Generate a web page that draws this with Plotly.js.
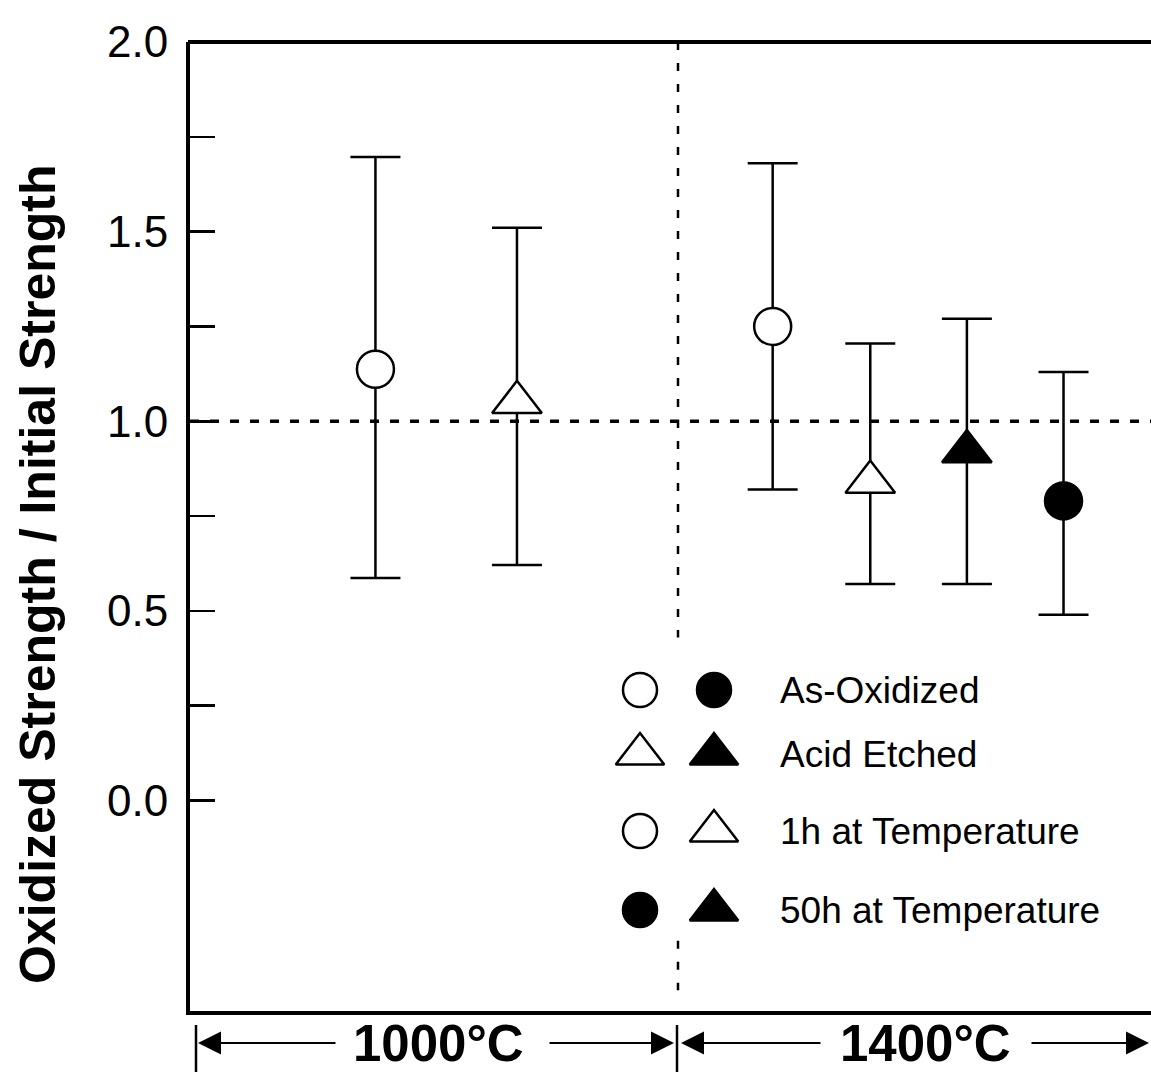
<!DOCTYPE html>
<html>
<head>
<meta charset="utf-8">
<script src="https://cdn.plot.ly/plotly-3.0.1.min.js"></script>
<style>
  html, body { margin: 0; padding: 0; background: #fff; overflow: hidden; }
  #chart { width: 1151px; height: 1073px; overflow: hidden; }
</style>
</head>
<body>
<div id="chart"></div>
<script>
// ---- data ----
const temperatures = ["1000°C", "1000°C", "1400°C", "1400°C", "1400°C", "1400°C"];
const treatments   = ["As-Oxidized", "Acid Etched", "As-Oxidized", "Acid Etched", "Acid Etched", "As-Oxidized"];
const exposure     = ["1h", "1h", "1h", "1h", "50h", "50h"];
const xSlot        = [1.9, 3.35, 5.97, 6.97, 7.96, 8.95];
const ratioMean    = [1.137, 1.05, 1.25, 0.84, 0.92, 0.79];
const ratioUpper   = [1.697, 1.51, 1.68, 1.205, 1.27, 1.13];
const ratioLower   = [0.587, 0.621, 0.82, 0.571, 0.571, 0.49];

const yTickVals  = [0, 0.25, 0.5, 0.75, 1.0, 1.25, 1.5, 1.75, 2.0];
const yTickText  = ["0.0", "", "0.5", "", "1.0", "", "1.5", "", "2.0"];

const legendLabels  = ["As-Oxidized", "Acid Etched", "1h at Temperature", "50h at Temperature"];
const legendSymbolA = ["circle", "triangle-up", "circle", "circle"];
const legendFillA   = ["1h", "1h", "1h", "50h"];
const legendSymbolB = ["circle", "triangle-up", "triangle-up", "triangle-up"];
const legendFillB   = ["50h", "50h", "1h", "50h"];

const tempGroups = ["1000°C", "1400°C"];

// ---- geometry / styling ----
const W = 1151, H = 1073;
const M = { l: 190, r: 0, t: 42, b: 62, pad: 0 };
const PW = W - M.l - M.r, PH = H - M.t - M.b;
const px = v => (v - M.l) / PW;          // page pixel x -> paper
const py = v => (H - M.b - v) / PH;      // page pixel y -> paper

const FONT = "Liberation Sans, Arial, Helvetica, sans-serif";
const symOf  = t => (t === "Acid Etched" ? "triangle-up" : "circle");
const fillOf = e => (e === "50h" ? "black" : "white");
const sizeOf = s => (s === "circle" ? 37 : 43);

const dataSymbols = treatments.map(symOf);
const dataTrace = {
  type: "scatter", mode: "markers",
  x: xSlot, y: ratioMean,
  text: temperatures.map((t, i) => t + " " + treatments[i] + " " + exposure[i]),
  error_y: {
    type: "data", symmetric: false,
    array: ratioUpper.map((u, i) => u - ratioMean[i]),
    arrayminus: ratioLower.map((l, i) => ratioMean[i] - l),
    color: "black", thickness: 2.5, width: 25
  },
  marker: {
    symbol: dataSymbols,
    size: dataSymbols.map(sizeOf),
    color: exposure.map(fillOf),
    opacity: 1,
    line: { color: "black", width: 2.5 }
  },
  showlegend: false, hoverinfo: "text"
};

// legend key (drawn on an overlay axis measured in page pixels)
const legRowY = [690, 754, 831, 910];
const legColA = 640, legColB = 714, legText = 778;
const legX = [], legY = [], legSym = [], legCol = [];
legendLabels.forEach((lab, i) => {
  legX.push(legColA, legColB); legY.push(legRowY[i], legRowY[i]);
  legSym.push(legendSymbolA[i], legendSymbolB[i]);
  legCol.push(fillOf(legendFillA[i]), fillOf(legendFillB[i]));
});
const legendTrace = {
  type: "scatter", mode: "markers", xaxis: "x2", yaxis: "y2",
  x: legX, y: legY,
  marker: {
    symbol: legSym,
    size: legSym.map(s => (s === "circle" ? 34 : 42)),
    color: legCol,
    opacity: 1,
    line: { color: "black", width: 2.5 }
  },
  showlegend: false, hoverinfo: "skip"
};

const annotations = legendLabels.map((lab, i) => ({
  xref: "x2", yref: "y2", x: legText, y: legRowY[i],
  text: lab, showarrow: false, xanchor: "left", yanchor: "middle",
  font: { family: FONT, size: 37, color: "black" }
}));

// y-axis title
annotations.push({
  xref: "paper", yref: "paper", x: px(38), y: py(575),
  text: "<b>Oxidized Strength / Initial Strength</b>", textangle: -90,
  showarrow: false, xanchor: "center", yanchor: "middle",
  font: { family: FONT, size: 50, color: "black" }
});

// temperature range labels beneath the axis
const groupCentre = [438, 925];
const rowY = 1043;
tempGroups.forEach((t, i) => {
  annotations.push({
    xref: "paper", yref: "paper", x: px(groupCentre[i]), y: py(rowY),
    text: "<b>" + t + "</b>", showarrow: false,
    xanchor: "center", yanchor: "middle",
    font: { family: FONT, size: 51, color: "black" }
  });
});
// arrows: [tip, tail] in page pixels along x
const arrows = [[198, 337], [674, 548], [681, 822], [1149, 1030]];
arrows.forEach(a => {
  annotations.push({
    xref: "paper", yref: "paper", x: px(a[0]), y: py(rowY),
    ax: a[1] - a[0], ay: 0,
    text: "", showarrow: true, arrowhead: 2, arrowsize: 2.3, arrowwidth: 2,
    arrowcolor: "black", standoff: 0, startstandoff: 0
  });
});

const shapes = [
  // top edge of the frame (open on the right)
  { type: "line", xref: "paper", yref: "paper", x0: px(188), x1: 1, y0: 1, y1: 1,
    line: { color: "black", width: 4 } },
  // reference line at ratio 1.0
  { type: "line", xref: "paper", yref: "y", x0: 0, x1: 1, y0: 1, y1: 1,
    line: { color: "black", width: 3.5, dash: "9px,11px" } },
  // divider between temperatures (interrupted by the key)
  { type: "line", xref: "x", yref: "y", x0: 5, x1: 5, y0: 2.0, y1: 0.43,
    line: { color: "black", width: 2.5, dash: "8px,13px" } },
  { type: "line", xref: "x", yref: "y", x0: 5, x1: 5, y0: -0.37, y1: -0.5,
    line: { color: "black", width: 2.5, dash: "8px,13px" } },
  // end stops of the range arrows (kept inside the page)
  { type: "line", xref: "paper", yref: "paper", x0: px(196), x1: px(196), y0: py(1025), y1: py(1072),
    line: { color: "black", width: 2.5 } },
  { type: "line", xref: "paper", yref: "paper", x0: px(677), x1: px(677), y0: py(1025), y1: py(1072),
    line: { color: "black", width: 2.5 } }
];

const layout = {
  width: W, height: H,
  margin: M,
  paper_bgcolor: "white", plot_bgcolor: "white",
  showlegend: false,
  xaxis: {
    range: [0, PW / 97.6], showgrid: false, zeroline: false,
    showticklabels: false, ticks: "",
    showline: true, mirror: false, linewidth: 4, linecolor: "black"
  },
  yaxis: {
    range: [-0.555, 2.0], showgrid: false, zeroline: false,
    tickmode: "array", tickvals: yTickVals, ticktext: yTickText,
    ticks: "inside", ticklen: 25, tickwidth: 2.5, tickcolor: "black",
    ticklabelstandoff: 9,
    tickfont: { family: FONT, size: 44, color: "black" },
    showline: true, mirror: false, linewidth: 4, linecolor: "black"
  },
  xaxis2: { overlaying: "x", range: [M.l, W - M.r], visible: false, fixedrange: true },
  yaxis2: { overlaying: "y", range: [H - M.b, M.t], visible: false, fixedrange: true },
  shapes: shapes,
  annotations: annotations
};

Plotly.newPlot("chart", [dataTrace, legendTrace], layout, { displayModeBar: false, staticPlot: true });
</script>
</body>
</html>
